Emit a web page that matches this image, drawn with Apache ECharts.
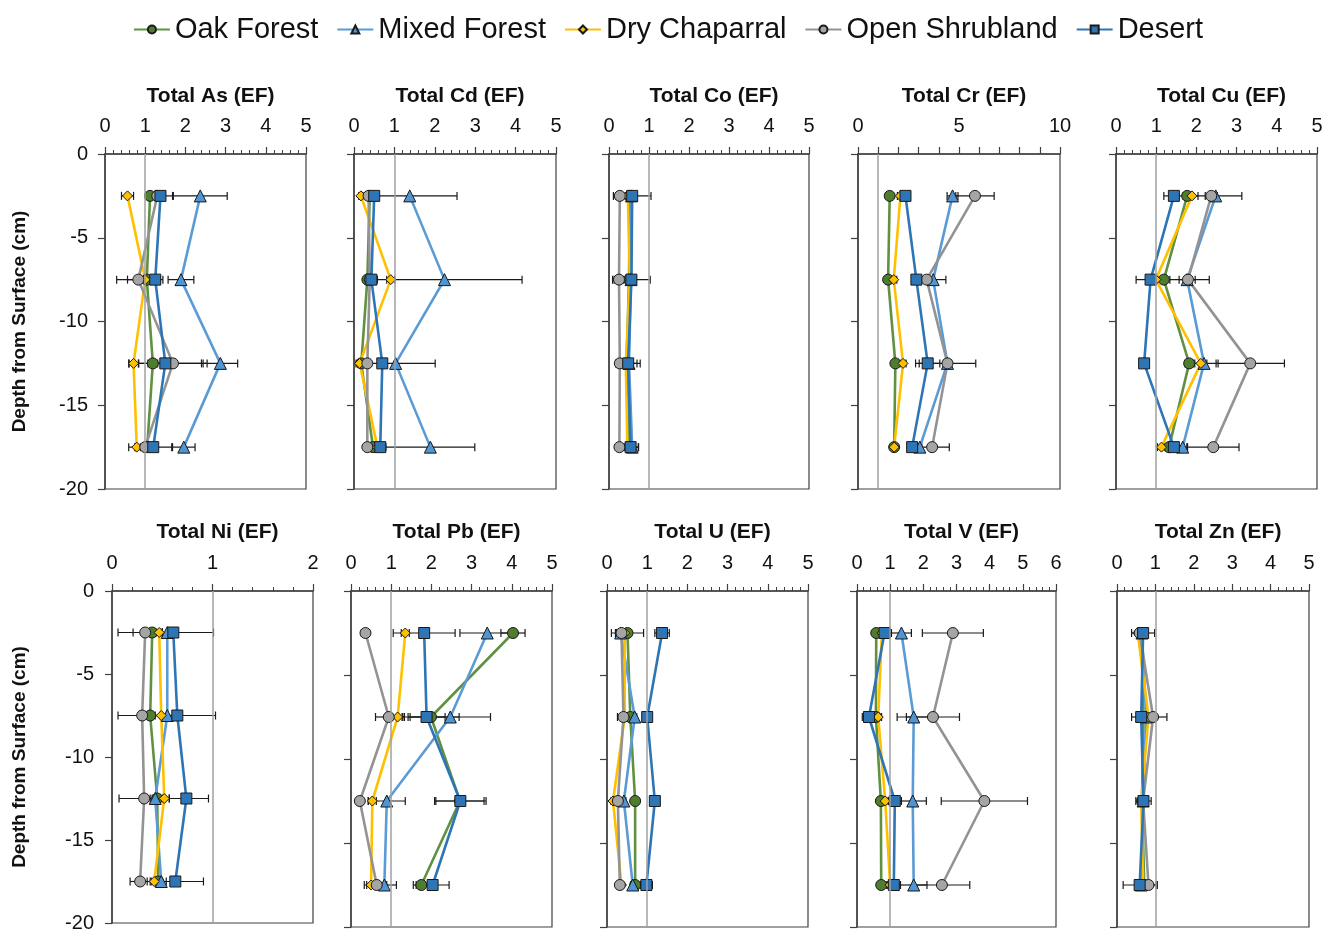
<!DOCTYPE html>
<html>
<head>
<meta charset="utf-8">
<script src="https://cdn.jsdelivr.net/npm/echarts@6/dist/echarts.min.js"></script>
<style>
  html, body { margin: 0; padding: 0; background: #fff; }
  #chart { width: 1336px; height: 933px; }
</style>
</head>
<body>
<div id="chart"></div>
<script>
// Sampling depths (cm, negative = below surface) and land-cover sites
const depths = [-2.5, -7.5, -12.5, -17.5];
const sites = ['Oak Forest', 'Mixed Forest', 'Dry Chaparral', 'Open Shrubland', 'Desert'];

// Enrichment factors: one row per site (order as in `sites`), one column per depth
const asVal = [[1.12, 1.04, 1.19, 1.05], [2.37, 1.89, 2.87, 1.96], [0.56, 1.00, 0.71, 0.79], [1.30, 0.83, 1.69, 1.00], [1.38, 1.25, 1.50, 1.20]];
const asErr = [[0.08, 0.10, 0.12, 0.10], [0.67, 0.32, 0.43, 0.28], [0.15, 0.44, 0.12, 0.20], [0.15, 0.54, 0.85, 0.12], [0.30, 0.12, 0.90, 0.46]];

const cdVal = [[0.39, 0.33, 0.18, 0.47], [1.38, 2.24, 1.03, 1.89], [0.17, 0.91, 0.14, 0.58], [0.36, 0.39, 0.33, 0.33], [0.50, 0.43, 0.70, 0.65]];
const cdErr = [[0.05, 0.05, 0.05, 0.05], [1.17, 1.92, 0.98, 1.10], [0.05, 0.10, 0.05, 0.05], [0.05, 0.05, 0.05, 0.05], [0.10, 0.15, 0.10, 0.10]];

const coVal = [[0.52, 0.50, 0.44, 0.50], [0.56, 0.55, 0.50, 0.58], [0.47, 0.52, 0.42, 0.46], [0.27, 0.25, 0.27, 0.26], [0.58, 0.56, 0.48, 0.54]];
const coErr = [[0.05, 0.05, 0.05, 0.05], [0.10, 0.12, 0.20, 0.15], [0.05, 0.05, 0.05, 0.05], [0.10, 0.12, 0.10, 0.05], [0.47, 0.47, 0.30, 0.20]];

const crVal = [[1.57, 1.49, 1.85, 1.79], [4.68, 3.72, 4.43, 3.06], [2.10, 1.77, 2.23, 1.79], [5.79, 3.40, 4.43, 3.67], [2.35, 2.89, 3.45, 2.68]];
const crErr = [[0.10, 0.10, 0.10, 0.10], [0.27, 0.63, 0.20, 0.10], [0.15, 0.15, 0.15, 0.10], [0.95, 0.30, 1.40, 0.85], [0.10, 0.20, 0.60, 0.15]];

const cuVal = [[1.77, 1.19, 1.82, 1.32], [2.48, 1.77, 2.19, 1.66], [1.89, 0.99, 2.11, 1.13], [2.37, 1.79, 3.34, 2.42], [1.44, 0.86, 0.70, 1.44]];
const cuErr = [[0.10, 0.15, 0.10, 0.10], [0.65, 0.20, 0.35, 0.10], [0.15, 0.15, 0.15, 0.10], [0.15, 0.53, 0.85, 0.64], [0.25, 0.36, 0.05, 0.20]];

const niVal = [[0.40, 0.38, 0.45, 0.46], [0.55, 0.55, 0.43, 0.49], [0.47, 0.49, 0.52, 0.42], [0.33, 0.30, 0.32, 0.28], [0.61, 0.65, 0.74, 0.63]];
const niErr = [[0.10, 0.10, 0.05, 0.04], [0.05, 0.12, 0.05, 0.05], [0.03, 0.12, 0.05, 0.03], [0.27, 0.24, 0.25, 0.10], [0.40, 0.38, 0.22, 0.28]];

const pbVal = [[4.03, 1.99, 2.71, 1.75], [3.39, 2.47, 0.89, 0.83], [1.35, 1.16, 0.53, 0.50], [0.36, 0.94, 0.22, 0.64], [1.82, 1.88, 2.72, 2.03]];
const pbErr = [[0.30, 0.70, 0.60, 0.20], [0.68, 1.00, 0.46, 0.30], [0.10, 0.17, 0.10, 0.17], [0.10, 0.33, 0.05, 0.25], [0.77, 0.46, 0.64, 0.41]];

const uVal = [[0.51, 0.58, 0.70, 0.70], [0.34, 0.69, 0.42, 0.64], [0.44, 0.44, 0.15, 0.36], [0.36, 0.41, 0.27, 0.32], [1.37, 1.00, 1.19, 0.98]];
const uErr = [[0.40, 0.05, 0.05, 0.05], [0.10, 0.05, 0.05, 0.05], [0.05, 0.05, 0.05, 0.05], [0.15, 0.15, 0.10, 0.05], [0.18, 0.05, 0.05, 0.15]];

const vVal = [[0.58, 0.57, 0.72, 0.73], [1.34, 1.71, 1.68, 1.71], [0.75, 0.64, 0.85, 1.00], [2.89, 2.29, 3.84, 2.56], [0.83, 0.36, 1.14, 1.11]];
const vErr = [[0.05, 0.10, 0.05, 0.05], [0.30, 0.50, 0.41, 0.40], [0.10, 0.10, 0.10, 0.10], [0.92, 0.80, 1.30, 0.84], [0.20, 0.20, 0.20, 0.20]];

const znVal = [[0.63, 0.69, 0.65, 0.71], [0.65, 0.76, 0.68, 0.63], [0.54, 0.82, 0.63, 0.68], [0.59, 0.94, 0.68, 0.82], [0.68, 0.63, 0.69, 0.59]];
const znErr = [[0.05, 0.05, 0.05, 0.05], [0.05, 0.05, 0.05, 0.05], [0.05, 0.05, 0.05, 0.05], [0.05, 0.36, 0.05, 0.23], [0.30, 0.25, 0.20, 0.43]];

// Marker / line styling per site
const siteStyle = [
  { line: '#5f9140', fill: '#4e7d2e', symbol: 'circle', size: 11 },
  { line: '#5b9bd5', fill: '#4f94d3', symbol: 'triangle', size: 12 },
  { line: '#ffc000', fill: '#ffc000', symbol: 'diamond', size: 10 },
  { line: '#939393', fill: '#a5a5a5', symbol: 'circle', size: 11 },
  { line: '#2e75b6', fill: '#2e75b6', symbol: 'rect', size: 11 }
];

// Panel layout: element, values, x range and plot box in pixels
const panels = [
  { title: 'Total As (EF)', val: asVal, err: asErr, max: 5, interval: 1, minor: 5, left: 105, top: 154, width: 201, height: 335 },
  { title: 'Total Cd (EF)', val: cdVal, err: cdErr, max: 5, interval: 1, minor: 5, left: 354, top: 154, width: 202, height: 335 },
  { title: 'Total Co (EF)', val: coVal, err: coErr, max: 5, interval: 1, minor: 5, left: 609, top: 154, width: 200, height: 335 },
  { title: 'Total Cr (EF)', val: crVal, err: crErr, max: 10, interval: 1, minor: 0, labelEvery: 5, left: 858, top: 154, width: 202, height: 335 },
  { title: 'Total Cu (EF)', val: cuVal, err: cuErr, max: 5, interval: 1, minor: 5, left: 1116, top: 154, width: 201, height: 335 },
  { title: 'Total Ni (EF)', val: niVal, err: niErr, max: 2, interval: 1, minor: 5, left: 112, top: 591, width: 201, height: 336 },
  { title: 'Total Pb (EF)', val: pbVal, err: pbErr, max: 5, interval: 1, minor: 5, left: 351, top: 591, width: 201, height: 336 },
  { title: 'Total U (EF)', val: uVal, err: uErr, max: 5, interval: 1, minor: 5, left: 607, top: 591, width: 201, height: 336 },
  { title: 'Total V (EF)', val: vVal, err: vErr, max: 6, interval: 1, minor: 5, left: 857, top: 591, width: 199, height: 336 },
  { title: 'Total Zn (EF)', val: znVal, err: znErr, max: 5, interval: 1, minor: 5, left: 1117, top: 591, width: 192, height: 336 }
];

const FONT = '"Liberation Sans", Arial, sans-serif';
const AXIS = '#404040';

const grids = [], xAxes = [], yAxes = [], titles = [], series = [];

panels.forEach((p, i) => {
  const firstCol = (i % 5) === 0;
  const topRow = i < 5;
  grids.push({
    left: p.left, top: p.top, width: p.width, height: p.height,
    show: true, borderColor: AXIS, borderWidth: 1.2, backgroundColor: '#fff'
  });
  titles.push({
    text: p.title,
    left: p.left + p.width / 2,
    top: p.top - (topRow ? 73 : 74),
    textAlign: 'center',
    textStyle: { fontFamily: FONT, fontSize: 21, fontWeight: 'bold', color: '#111' }
  });
  xAxes.push({
    gridIndex: i, type: 'value', position: 'top', min: 0, max: p.max, interval: p.interval,
    axisLine: { show: true, onZero: false, lineStyle: { color: AXIS, width: 1.5 } },
    axisTick: { show: true, length: 7, lineStyle: { color: AXIS, width: 1.2 } },
    minorTick: { show: p.minor > 0, splitNumber: p.minor, length: 4, lineStyle: { color: AXIS, width: 1 } },
    splitLine: { show: false },
    axisLabel: {
      show: true, margin: 18, fontFamily: FONT, fontSize: 20, color: '#111',
      showMinLabel: true, showMaxLabel: true,
      formatter: v => (p.labelEvery ? (v % p.labelEvery === 0 ? String(v) : '') : String(v))
    }
  });
  yAxes.push({
    gridIndex: i, type: 'value', min: -20, max: 0, interval: 5,
    axisLine: { show: true, onZero: false, lineStyle: { color: AXIS, width: 1.5 } },
    axisTick: { show: true, length: 7, lineStyle: { color: AXIS, width: 1.2 } },
    splitLine: { show: false },
    axisLabel: { show: firstCol, margin: topRow ? 17 : 18, fontFamily: FONT, fontSize: 20, color: '#111' },
    name: firstCol ? 'Depth from Surface (cm)' : '',
    nameLocation: 'middle', nameRotate: 90, nameGap: topRow ? 76 : 83,
    nameTextStyle: { fontFamily: FONT, fontSize: 19, fontWeight: 'bold', color: '#111' }
  });

  // reference line at EF = 1
  series.push({
    type: 'line', xAxisIndex: i, yAxisIndex: i, data: [], silent: true, z: 1,
    markLine: {
      silent: true, symbol: ['none', 'none'], label: { show: false }, animation: false,
      lineStyle: { color: '#a0a0a0', width: 1.5, type: 'solid' },
      data: [{ xAxis: 1 }]
    }
  });

  sites.forEach((name, s) => {
    const st = siteStyle[s];
    // horizontal error bars with end caps
    series.push({
      type: 'custom', xAxisIndex: i, yAxisIndex: i, z: 2, silent: true,
      encode: { x: 0, y: 1 },
      data: p.val[s].map((v, k) => [v, depths[k], p.err[s][k]]),
      renderItem: (params, api) => {
        const x = api.value(0), y = api.value(1), e = api.value(2);
        const a = api.coord([x - e, y]), b = api.coord([x + e, y]);
        const h = 4;
        const style = { stroke: '#1a1a1a', lineWidth: 1.2 };
        return {
          type: 'group',
          children: [
            { type: 'line', shape: { x1: a[0], y1: a[1], x2: b[0], y2: b[1] }, style },
            { type: 'line', shape: { x1: a[0], y1: a[1] - h, x2: a[0], y2: a[1] + h }, style },
            { type: 'line', shape: { x1: b[0], y1: b[1] - h, x2: b[0], y2: b[1] + h }, style }
          ]
        };
      }
    });
    series.push({
      type: 'line', name, xAxisIndex: i, yAxisIndex: i, z: 3,
      data: p.val[s].map((v, k) => [v, depths[k]]),
      symbol: st.symbol, symbolSize: st.size, showAllSymbol: true,
      lineStyle: { color: st.line, width: 2.6 },
      itemStyle: { color: st.fill, borderColor: '#1a1a1a', borderWidth: 1 }
    });
  });
});

const chart = echarts.init(document.getElementById('chart'), null, { renderer: 'canvas' });
chart.setOption({
  animation: false,
  backgroundColor: '#fff',
  textStyle: { fontFamily: FONT },
  title: titles,
  legend: {
    data: sites, left: 'center', top: 10,
    itemWidth: 36, itemHeight: 10, itemGap: 18,
    textStyle: { fontFamily: FONT, fontSize: 29, color: '#111' }
  },
  grid: grids,
  xAxis: xAxes,
  yAxis: yAxes,
  series
});
</script>
</body>
</html>
